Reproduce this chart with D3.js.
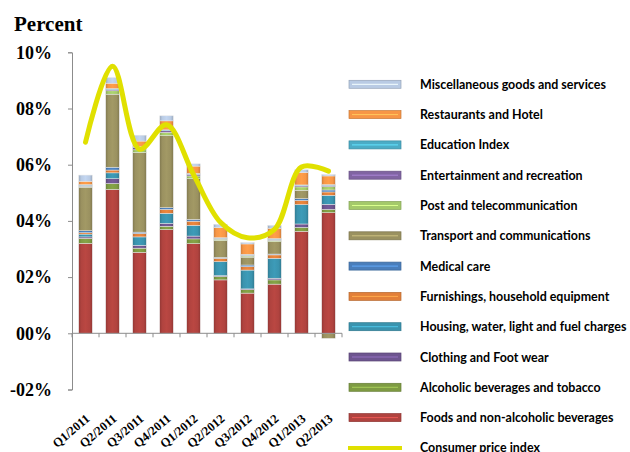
<!DOCTYPE html>
<html><head><meta charset="utf-8">
<script src="https://cdn.jsdelivr.net/npm/d3@7/dist/d3.min.js"></script>
<style>body{margin:0;background:#fff} svg{display:block}</style>
</head><body><svg id="c" width="630" height="452"></svg>
<script>
const quarters = ["Q1/2011","Q2/2011","Q3/2011","Q4/2011","Q1/2012","Q2/2012","Q3/2012","Q4/2012","Q1/2013","Q2/2013"];
const foods         = [3.20,5.12,2.88,3.69,3.19,1.90,1.43,1.75,3.63,4.29];
const alcohol       = [0.18,0.21,0.15,0.12,0.17,0.12,0.12,0.15,0.14,0.12];
const clothing      = [0.05,0.17,0.10,0.10,0.10,0.03,0.03,0.06,0.12,0.18];
const housing       = [0.10,0.21,0.30,0.36,0.38,0.50,0.67,0.71,0.69,0.32];
const furnishings   = [0.05,0.10,0.12,0.14,0.15,0.12,0.12,0.12,0.15,0.12];
const medical       = [0.07,0.10,0.05,0.06,0.06,0.03,0.06,0.03,0.06,0.07];
const transport     = [1.55,2.60,2.83,2.56,1.45,0.60,0.28,0.44,0.30,-0.18];
const post          = [0.03,0.12,0.10,0.12,0.10,0.05,0.04,0.05,0.12,0.12];
const entertainment = [0.03,0.04,0.08,0.06,0.06,0.03,0.03,0.03,0.04,0.04];
const education     = [0.03,0.04,0.03,0.03,0.03,0.02,0.03,0.03,0.03,0.03];
const restaurants   = [0.12,0.19,0.20,0.32,0.26,0.36,0.37,0.37,0.44,0.31];
const misc          = [0.22,0.20,0.21,0.18,0.08,0.12,0.05,0.10,0.10,0.05];
const cpi           = [6.80,9.50,6.55,7.42,5.65,3.95,3.40,3.70,5.92,5.77];
const yTicks = [-2,0,2,4,6,8,10];
const yTickLabels = ["-02%","00%","02%","04%","06%","08%","10%"];
const seriesNames = ["Foods and non-alcoholic beverages","Alcoholic beverages and tobacco","Clothing and Foot wear","Housing, water, light and fuel charges","Furnishings, household equipment","Medical care","Transport and communications","Post and telecommunication","Entertainment and recreation","Education Index","Restaurants and Hotel","Miscellaneous goods and services"];
const seriesValues = [foods,alcohol,clothing,housing,furnishings,medical,transport,post,entertainment,education,restaurants,misc];
const seriesColors = ["#B0433F","#7E9B43","#6E5590","#3A93AE","#E2803A","#4A7EBB","#9A9160","#A4C96A","#8064A2","#4BACC6","#F79646","#B9CBE4"];
const cpiName = "Consumer price index";

const svg = d3.select("#c");
const x = d3.scaleBand().domain(quarters).range([72,342]).paddingInner(0.5).paddingOuter(0.25);
const y = d3.scaleLinear().domain([-2,10]).range([389.5,52.3]);

// gradients
const defs = svg.append("defs");
seriesColors.forEach((c,i)=>{
  const g = defs.append("linearGradient").attr("id","g"+i).attr("x1","0").attr("x2","1").attr("y1","0").attr("y2","0");
  const base = d3.color(c);
  g.append("stop").attr("offset","0").attr("stop-color",base.darker(0.5));
  g.append("stop").attr("offset","0.18").attr("stop-color",base);
  g.append("stop").attr("offset","0.5").attr("stop-color",base.brighter(0.15));
  g.append("stop").attr("offset","0.82").attr("stop-color",base);
  g.append("stop").attr("offset","1").attr("stop-color",base.darker(0.5));
});

const table = quarters.map((q,i)=>{const o={q}; seriesNames.forEach((n,k)=>o[n]=seriesValues[k][i]); return o;});
const stack = d3.stack().keys(seriesNames).offset(d3.stackOffsetDiverging)(table);

// axes
const yAxis = d3.axisLeft(y).tickValues(yTicks).tickSize(4).tickFormat(d=>yTickLabels[yTicks.indexOf(d)]);
const ya = svg.append("g").attr("transform","translate(72,0)").call(yAxis);
ya.select(".domain").attr("stroke","#8c8c8c");
ya.selectAll(".tick line").attr("stroke","#8c8c8c");
ya.selectAll(".tick text").attr("x",-20).attr("font-family","Liberation Serif").attr("font-weight","bold").attr("font-size",18).attr("fill","#000");

// bars
stack.forEach((s,k)=>{
  svg.append("g").selectAll("rect").data(s).join("rect")
    .attr("x",d=>x(d.data.q)).attr("width",x.bandwidth())
    .attr("y",d=>y(Math.max(d[0],d[1]))).attr("height",d=>Math.abs(y(d[0])-y(d[1])))
    .attr("fill","url(#g"+k+")").attr("stroke","#e6e6e6").attr("stroke-width",0.5);
});

// x axis at zero
const xg = svg.append("g").attr("transform",`translate(0,${y(0)})`);
xg.append("line").attr("x1",72).attr("x2",342).attr("stroke","#8c8c8c");
const step = x.step();
xg.selectAll("line.t").data(d3.range(quarters.length+1)).join("line").attr("class","t")
  .attr("x1",i=>72+i*step).attr("x2",i=>72+i*step).attr("y1",0).attr("y2",4).attr("stroke","#8c8c8c");
svg.append("g").selectAll("text").data(quarters).join("text")
  .attr("transform",d=>`translate(${x(d)+x.bandwidth()/2+5},${420}) rotate(-40)`)
  .attr("text-anchor","end").attr("font-family","Liberation Serif").attr("font-weight","bold").attr("font-size",12.5).text(d=>d);

// CPI line
const line = d3.line().x((d,i)=>x(quarters[i])+x.bandwidth()/2).y(d=>y(d)).curve(d3.curveCatmullRom.alpha(0.5));
svg.append("path").attr("d",line(cpi)).attr("fill","none").attr("stroke","#E0E000").attr("stroke-width",5).attr("stroke-linecap","round");

// title
svg.append("text").attr("x",14).attr("y",31).attr("font-family","Liberation Serif").attr("font-weight","bold").attr("font-size",21).text("Percent");

// legend
const legItems = seriesNames.map((n,k)=>({n,c:seriesColors[k]})).reverse();
const lg = svg.append("g");
const texts = [];
legItems.forEach((it,i)=>{
  const cy = 84.3 + i*30.3;
  lg.append("rect").attr("x",349).attr("y",cy-4).attr("width",52).attr("height",8).attr("fill",it.c).attr("stroke",d3.color(it.c).darker(0.6)).attr("stroke-width",0.7);
  lg.append("line").attr("x1",352).attr("x2",398).attr("y1",cy).attr("y2",cy).attr("stroke",d3.color(it.c).brighter(0.8)).attr("stroke-width",1);
  texts.push(lg.append("g").attr("data-y",cy).append("text").attr("y",4.5).attr("font-family","Lato").attr("font-weight","bold").attr("font-size",13).text(it.n));
});
const cyc = 84.3 + 12*30.3;
lg.append("line").attr("x1",348).attr("x2",402).attr("y1",cyc).attr("y2",cyc).attr("stroke","#E0E000").attr("stroke-width",4);
texts.push(lg.append("g").attr("data-y",cyc).append("text").attr("y",4.5).attr("font-family","Lato").attr("font-weight","bold").attr("font-size",13).text(cpiName));
const w0 = texts[0].node().getComputedTextLength();
const f = Math.min(1, 186 / w0);
texts.forEach(t=>{
  const g = d3.select(t.node().parentNode);
  g.attr("transform",`translate(420,${g.attr("data-y")}) scale(${f},1)`);
});
</script></body></html>
